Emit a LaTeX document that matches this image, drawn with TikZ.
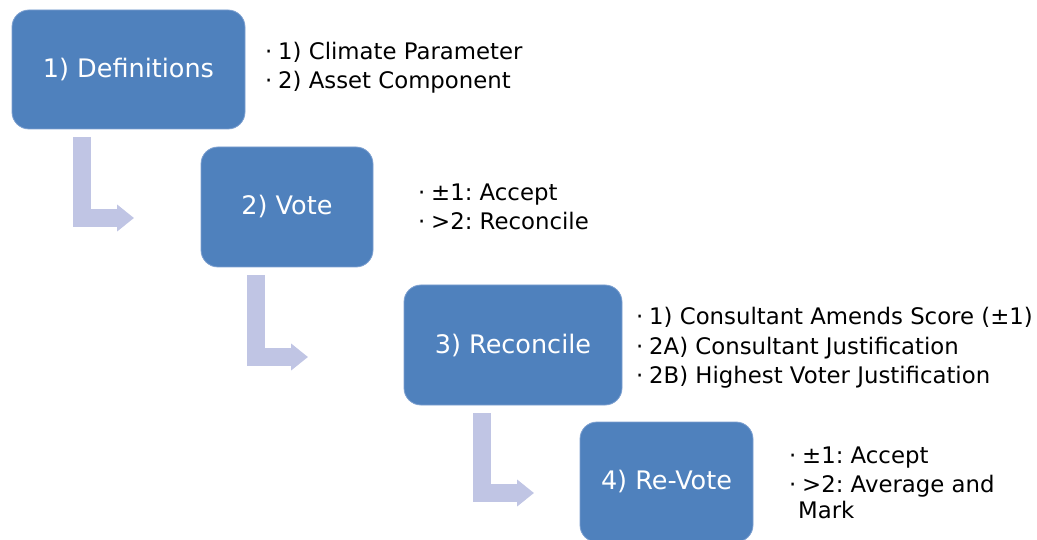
\documentclass[tikz,border=0pt]{standalone}
\usepackage{fontspec}
\setmainfont{DejaVu Sans}
\usetikzlibrary{arrows.meta}
\definecolor{boxblue}{RGB}{79,129,189}
\definecolor{boxedge}{RGB}{125,160,208}
\definecolor{arrowlav}{RGB}{192,197,228}
\tikzset{
  stepbox/.style={rectangle, rounded corners=17pt, fill=boxblue, draw=boxedge, line width=0.8pt,
    text=white, font=\fontsize{25.5}{30}\selectfont\frenchspacing, inner sep=0pt},
  bline/.style={anchor=base west, inner sep=0pt, text=black,
    font=\fontsize{22.8}{30}\selectfont\frenchspacing},
  bendarrow/.style={draw=arrowlav, line width=18pt, line join=miter,
    -{Triangle[length=17pt,width=26pt]}}
}
\newcommand{\bitem}[1]{\makebox[13pt][l]{\textperiodcentered}#1}
\begin{document}
\begin{tikzpicture}[x=1pt,y=-1pt]
\useasboundingbox (0,0) rectangle (1037,540);
% boxes
\node[stepbox, minimum width=233pt, minimum height=119pt] (b1) at (128.5,69.5) {1) Definitions};
\node[stepbox, minimum width=172pt, minimum height=120pt] (b2) at (287,207) {2) Vote};
\node[stepbox, minimum width=218pt, minimum height=120pt] (b3) at (513,345) {3) Reconcile};
\node[stepbox, minimum width=173pt, minimum height=120pt] (b4) at (666.5,482) {4) Re-Vote};
% bullet texts
\node[bline] (t1a) at (265,60) {\bitem{1) Climate Parameter}};
\node[bline] (t1b) at (265,89) {\bitem{2) Asset Component}};
\node[bline] (t2a) at (418,201) {\bitem{\textpm1: Accept}};
\node[bline] (t2b) at (418,230) {\bitem{>2: Reconcile}};
\node[bline] (t3a) at (636,324) {\bitem{1) Consultant Amends Score (\textpm1)}};
\node[bline] (t3b) at (636,354) {\bitem{2A) Consultant Justification}};
\node[bline] (t3c) at (636,383) {\bitem{2B) Highest Voter Justification}};
\node[bline] (t4a) at (789,463) {\bitem{\textpm1: Accept}};
\node[bline] (t4b) at (789,492) {\bitem{>2: Average and}};
\node[bline] (t4c) at (798,518) {Mark};
% bent arrows
\coordinate (a1s) at (82,137); \coordinate (a1e) at (134,218);
\coordinate (a2s) at (255.5,275); \coordinate (a2e) at (308,357);
\coordinate (a3s) at (482,413); \coordinate (a3e) at (534,493);
\draw[bendarrow] (a1s) |- (a1e);
\draw[bendarrow] (a2s) |- (a2e);
\draw[bendarrow] (a3s) |- (a3e);
\end{tikzpicture}
\end{document}
